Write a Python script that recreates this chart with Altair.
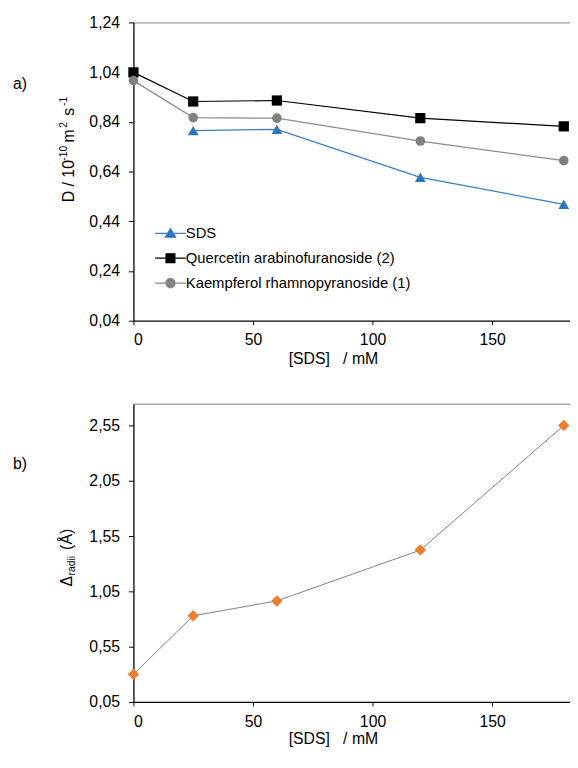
import altair as alt
import pandas as pd

FONT = "Liberation Sans"

# ---------------- data ----------------
series = ["SDS", "Quercetin arabinofuranoside (2)", "Kaempferol rhamnopyranoside (1)"]
conc_all = [0, 25, 60, 120, 180]
conc_sds = [25, 60, 120, 180]
d_sds = [0.805, 0.810, 0.617, 0.508]
d_quer = [1.039, 0.922, 0.926, 0.855, 0.822]
d_kaem = [1.006, 0.857, 0.855, 0.763, 0.684]
delta_radii = [0.30, 0.83, 0.965, 1.425, 2.553]

x_ticks = [0, 50, 100, 150]
y_ticks_top = [0.04, 0.24, 0.44, 0.64, 0.84, 1.04, 1.24]
y_ticks_bot = [0.05, 0.55, 1.05, 1.55, 2.05, 2.55]
panel_labels = ["a)", "b)"]
x_title = "[SDS]\u00a0\u00a0 / mM"
top_ytitle = ["D / 10", "-10", "m", "2", "s", "-1"]
bottom_ytitle = ["\u0394", "radii", "(\u00c5)"]

marker_colors = ["#2E75B6", "#000000", "#808080"]
line_colors = ["#3A7CC6", "#000000", "#8C8C8C"]
marker_shapes = ["triangle-up", "square", "circle"]
marker_sizes = [120, 95, 100]
legend_paths = [
    "M-3.1,0H3.1M0,-0.95L1.05,0.8L-1.05,0.8Z",
    "M-3.1,0H3.1M-0.9,-0.9H0.9V0.9H-0.9Z",
    "M-3.1,0H3.1M-0.95,0A0.95,0.95,0,1,0,0.95,0A0.95,0.95,0,1,0,-0.95,0Z",
]

rows = []
for c, v in zip(conc_sds, d_sds):
    rows.append({"conc": c, "D": v, "series": series[0]})
for c, v in zip(conc_all, d_quer):
    rows.append({"conc": c, "D": v, "series": series[1]})
for c, v in zip(conc_all, d_kaem):
    rows.append({"conc": c, "D": v, "series": series[2]})
df_top = pd.DataFrame(rows)
df_bot = pd.DataFrame({"conc": conc_all, "dr": delta_radii})

W, H = 442, 302
xscale = alt.Scale(domain=[0, 182.6], nice=False, zero=False)
comma = "replace(format(datum.value, '.2f'), '.', ',')"


def vtext(text, x, y, size):
    """Rotated piece of an axis title (text reads bottom-to-top)."""
    return alt.Chart(pd.DataFrame({"t": [text]})).mark_text(
        align="left", baseline="alphabetic", angle=270, font=FONT,
        fontSize=size, color="black"
    ).encode(x=alt.value(x), y=alt.value(y), text="t:N")


def panel_label(text, y):
    return alt.Chart(pd.DataFrame({"lab": [text]})).mark_text(
        align="left", baseline="middle", font=FONT, fontSize=16, color="black"
    ).encode(x=alt.value(-122), y=alt.value(y), text="lab:N")


top_border_axis = alt.Axis(orient="top", labels=False, ticks=False, title=None,
                           domainColor="#7F7F7F", domainWidth=1, grid=False,
                           minExtent=0, maxExtent=0)

# ---------------- top panel ----------------
yscale_top = alt.Scale(domain=[0.04, 1.24], nice=False, zero=False)

lines_top = alt.Chart(df_top).mark_line(strokeWidth=1.25).encode(
    x=alt.X("conc:Q", scale=xscale,
            axis=alt.Axis(values=x_ticks, title=x_title, tickSize=4,
                          labelPadding=7, titlePadding=3, titleX=202, grid=False)),
    y=alt.Y("D:Q", scale=yscale_top,
            axis=alt.Axis(values=y_ticks_top, labelExpr=comma, tickSize=5, labelPadding=9,
                          title=None, grid=False)),
    color=alt.Color("series:N", scale=alt.Scale(domain=series, range=line_colors), legend=None),
    detail="series:N",
    order="conc:Q",
)

points_top = alt.Chart(df_top).mark_point(filled=True, opacity=1).encode(
    x=alt.X("conc:Q", scale=xscale, axis=top_border_axis),
    y=alt.Y("D:Q", scale=yscale_top),
    color=alt.Color("series:N", scale=alt.Scale(domain=series, range=marker_colors), legend=None),
    shape=alt.Shape("series:N", scale=alt.Scale(domain=series, range=marker_shapes), legend=None),
    size=alt.Size("series:N", scale=alt.Scale(domain=series, range=marker_sizes), legend=None),
)

leg = alt.Legend(orient="none", legendX=14, legendY=206, title=None, padding=0,
                 symbolSize=100, symbolStrokeWidth=1.2, symbolOffset=16, labelOffset=8,
                 rowPadding=9.2, labelFont=FONT, labelFontSize=15, labelColor="black",
                 labelLimit=400)

legend_top = alt.Chart(df_top).transform_filter("false").transform_calculate(
    leg="datum.series"
).mark_point(filled=True, opacity=1, strokeWidth=1.2).encode(
    x=alt.X("conc:Q", scale=xscale, axis=None),
    y=alt.Y("D:Q", scale=yscale_top),
    color=alt.Color("leg:N", scale=alt.Scale(domain=series, range=marker_colors), legend=leg),
    stroke=alt.Stroke("leg:N", scale=alt.Scale(domain=series, range=line_colors), legend=leg),
    shape=alt.Shape("leg:N", scale=alt.Scale(domain=series, range=legend_paths), legend=leg),
)

top_title_layers = [
    vtext(top_ytitle[0], -60, 182, 16),
    vtext(top_ytitle[1], -67, 140, 10.5),
    vtext(top_ytitle[2], -60, 121.5, 16),
    vtext(top_ytitle[3], -67, 106.5, 10.5),
    vtext(top_ytitle[4], -60, 94.5, 16),
    vtext(top_ytitle[5], -67, 84.5, 10.5),
]

top = alt.layer(lines_top, points_top, legend_top, panel_label(panel_labels[0], 62),
                *top_title_layers).resolve_scale(
    color="independent", shape="independent", stroke="independent", size="independent"
).resolve_axis(x="independent").properties(width=W, height=H)

# ---------------- bottom panel ----------------
yscale_bot = alt.Scale(domain=[0.05, 2.75], nice=False, zero=False)

line_bot = alt.Chart(df_bot).mark_line(color="#7F7F7F", strokeWidth=1).encode(
    x=alt.X("conc:Q", scale=xscale,
            axis=alt.Axis(values=x_ticks, title=x_title, tickSize=4,
                          labelPadding=8, titlePadding=1, titleX=202, grid=False)),
    y=alt.Y("dr:Q", scale=yscale_bot,
            axis=alt.Axis(values=y_ticks_bot, labelExpr=comma, tickSize=5, labelPadding=9,
                          title=None, grid=False)),
    order="conc:Q",
)

pts_bot = alt.Chart(df_bot).mark_point(filled=True, shape="diamond", size=135,
                                       color="#ED7D31", opacity=1).encode(
    x=alt.X("conc:Q", scale=xscale, axis=top_border_axis),
    y=alt.Y("dr:Q", scale=yscale_bot),
)

bottom = alt.layer(
    line_bot, pts_bot, panel_label(panel_labels[1], 61),
    vtext(bottom_ytitle[0], -62, 185, 16),
    vtext(bottom_ytitle[1], -59, 174, 10.5),
    vtext(bottom_ytitle[2], -62, 148, 16),
).resolve_axis(x="independent").properties(width=W, height=H)

chart = alt.vconcat(top, bottom, spacing=38).properties(
    padding={"left": 5, "top": 2, "right": 0, "bottom": 0}
).configure_view(strokeWidth=0).configure_axis(
    labelFont=FONT, titleFont=FONT, labelFontSize=16, titleFontSize=16,
    labelColor="black", titleColor="black", titleFontWeight="normal",
    domainColor="black", domainWidth=1.3, tickColor="black", tickWidth=1,
).configure_legend(labelFont=FONT)

chart.save("out.html", embed_options={"renderer": "svg", "actions": False})
